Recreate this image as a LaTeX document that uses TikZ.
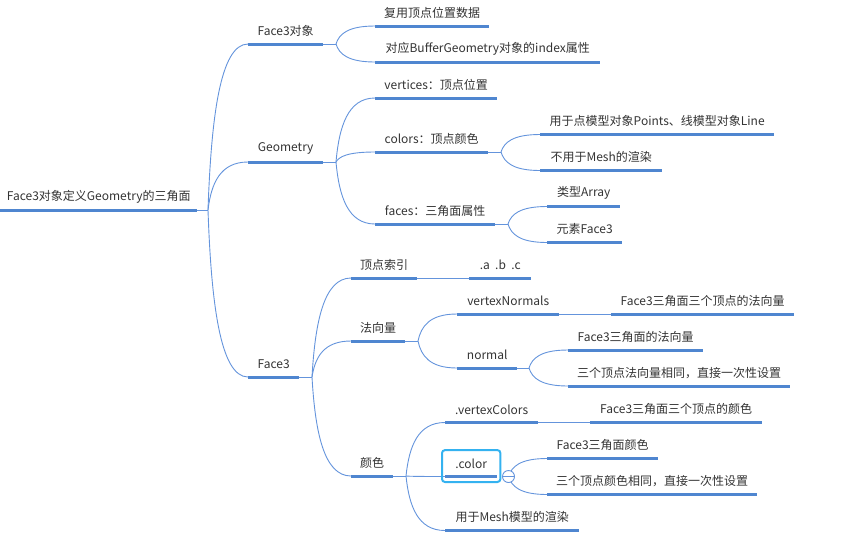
\documentclass[tikz,border=0pt]{standalone}
\usepackage{fontspec}
\setmainfont{Noto Sans CJK SC}
\usetikzlibrary{calc}
\definecolor{ul}{RGB}{79,134,208}
\definecolor{ln}{RGB}{100,148,220}
\definecolor{sel}{RGB}{52,178,240}
\definecolor{tx}{RGB}{51,51,51}
\newcommand\mmnode[5]{%
  \node[item, minimum width={(#3-#2)*1pt}] (#1) at (#2,#4) {#5};
  \draw[uline] (#1.south west) -- (#1.south east);}
\begin{document}
\begin{tikzpicture}[x=1pt,y=-1pt,
  font=\fontsize{12}{14}\selectfont,
  item/.style={anchor=south west, inner xsep=0pt, inner ysep=0pt, minimum height=26pt, text=tx},
  uline/.style={draw=ul, line width=3pt},
  link/.style={draw=ln, line width=0.9pt},
  conn/.style={to path={let \p1=(\tikztostart), \p2=(\tikztotarget) in
     .. controls ({\x1+0.08*(\x2-\x1)},{\y1+0.55*(\y2-\y1)}) and ({\x1+0.3*(\x2-\x1)},\y2) .. (\tikztotarget)}},
  selbox/.style={draw=sel, line width=2pt, rounded corners=3pt}]
\useasboundingbox (0,0) rectangle (854,542);

% nodes
\mmnode{root}{0}{197}{210}{Face3对象定义Geometry的三角面}
\mmnode{f3obj}{248}{323}{44}{Face3对象}
\mmnode{reuse}{375}{489}{26}{复用顶点位置数据}
\mmnode{bufidx}{375}{600}{62}{对应BufferGeometry对象的index属性}
\mmnode{geom}{248}{323}{162}{Geometry}
\mmnode{verts}{375}{497}{98}{vertices：顶点位置}
\mmnode{colors}{375}{488}{152}{colors：顶点颜色}
\mmnode{points}{540}{774}{134.5}{用于点模型对象Points、线模型对象Line}
\mmnode{nomesh}{540}{662}{170.5}{不用于Mesh的渲染}
\mmnode{faces}{375}{495}{224}{faces：三角面属性}
\mmnode{arr}{547}{620}{206.5}{类型Array}
\mmnode{elem}{547}{622}{242.5}{元素Face3}
\mmnode{face3}{248}{299}{377}{Face3}
\mmnode{idx}{351}{417}{278}{顶点索引}
\mmnode{abc}{469}{531}{278}{.a\ \ .b\ \ .c}
\mmnode{normals}{351}{405}{341}{法向量}
\mmnode{vn}{457}{559}{314}{vertexNormals}
\mmnode{vnd}{611}{794}{314}{Face3三角面三个顶点的法向量}
\mmnode{nrm}{457}{517}{368}{normal}
\mmnode{nrma}{568}{703}{350}{Face3三角面的法向量}
\mmnode{nrmb}{568}{790}{386}{三个顶点法向量相同，直接一次性设置}
\mmnode{col}{351}{393}{476}{颜色}
\mmnode{vc}{445}{538}{422.5}{.vertexColors}
\mmnode{vcd}{590}{762}{422.5}{Face3三角面三个顶点的颜色}
\mmnode{clr}{445}{497}{476.5}{.color}
\mmnode{clra}{547}{658}{458.5}{Face3三角面颜色}
\mmnode{clrb}{547}{757}{494.5}{三个顶点颜色相同，直接一次性设置}
\mmnode{mesh}{445}{579}{530.5}{用于Mesh模型的渲染}

% junctions
\coordinate (jroot) at (208,210);
\coordinate (jf3obj) at (336,44);
\coordinate (jgeom) at (336,162);
\coordinate (jcolors) at (501,152);
\coordinate (jfaces) at (508,224);
\coordinate (jface3) at (312,377);
\coordinate (jnormals) at (418,341);
\coordinate (jnrm) at (529,368);
\coordinate (jcol) at (406,476);
\coordinate (jclr) at (508.5,476.5);

% connectors
\draw[link] (root.south east) -- (jroot);
\draw[link] (jroot) to[conn] (f3obj.south west);
\draw[link] (jroot) to[conn] (geom.south west);
\draw[link] (jroot) to[conn] (face3.south west);

\draw[link] (f3obj.south east) -- (jf3obj);
\draw[link] (jf3obj) to[conn] (reuse.south west);
\draw[link] (jf3obj) to[conn] (bufidx.south west);

\draw[link] (geom.south east) -- (jgeom);
\draw[link] (jgeom) to[conn] (verts.south west);
\draw[link] (jgeom) to[conn] (colors.south west);
\draw[link] (jgeom) to[conn] (faces.south west);

\draw[link] (colors.south east) -- (jcolors);
\draw[link] (jcolors) to[conn] (points.south west);
\draw[link] (jcolors) to[conn] (nomesh.south west);

\draw[link] (faces.south east) -- (jfaces);
\draw[link] (jfaces) to[conn] (arr.south west);
\draw[link] (jfaces) to[conn] (elem.south west);

\draw[link] (face3.south east) -- (jface3);
\draw[link] (jface3) to[conn] (idx.south west);
\draw[link] (jface3) to[conn] (normals.south west);
\draw[link] (jface3) to[conn] (col.south west);

\draw[link] (idx.south east) -- (abc.south west);

\draw[link] (normals.south east) -- (jnormals);
\draw[link] (jnormals) to[conn] (vn.south west);
\draw[link] (jnormals) to[conn] (nrm.south west);
\draw[link] (vn.south east) -- (vnd.south west);

\draw[link] (nrm.south east) -- (jnrm);
\draw[link] (jnrm) to[conn] (nrma.south west);
\draw[link] (jnrm) to[conn] (nrmb.south west);

\draw[link] (col.south east) -- (jcol);
\draw[link] (jcol) to[conn] (vc.south west);
\draw[link] (jcol) to[conn] (clr.south west);
\draw[link] (jcol) to[conn] (mesh.south west);
\draw[link] (vc.south east) -- (vcd.south west);

\draw[link] (jclr) to[conn] (clra.south west);
\draw[link] (jclr) to[conn] (clrb.south west);

% selection box and collapse toggle
\draw[selbox] ([xshift=-3pt]clr.north west) rectangle ([xshift=3pt,yshift=-5.5pt]clr.south east);
\node[circle, draw=ln, fill=white, line width=0.9pt, minimum size=12pt, inner sep=0pt] (tog) at (jclr) {};
\draw[link] (tog.west) -- (tog.east);
\end{tikzpicture}
\end{document}
